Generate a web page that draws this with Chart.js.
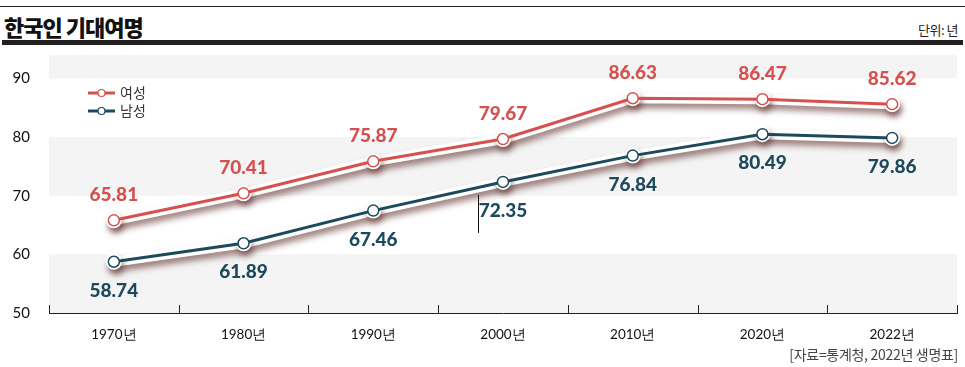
<!DOCTYPE html>
<html><head><meta charset="utf-8">
<script src="https://cdn.jsdelivr.net/npm/chart.js@4/dist/chart.umd.min.js"></script>
<style>
html,body{margin:0;padding:0;background:#fff;}
#wrap{position:relative;width:965px;height:367px;overflow:hidden;font-family:"Noto Sans CJK KR",sans-serif;}
#topline{position:absolute;left:0;top:6px;width:965px;height:1px;background:#222;}
#title{position:absolute;left:4px;top:11px;font-size:22px;font-weight:900;color:#111;letter-spacing:-1px;line-height:30px;}
#unit{position:absolute;right:7px;top:20px;font-size:13px;color:#222;line-height:20px;letter-spacing:-0.5px;}
#bar{position:absolute;left:2px;top:40px;width:961px;height:5px;background:#231f20;}
#src{position:absolute;right:7px;top:344px;font-size:14px;color:#444;line-height:20px;letter-spacing:-0.3px;}
canvas{position:absolute;left:0;top:0;}
</style></head>
<body><div id="wrap">
<div id="topline"></div>
<div id="title">한국인 기대여명</div>
<div id="unit">단위: 년</div>
<div id="bar"></div>
<canvas id="c" width="965" height="367"></canvas>
<div id="src">[자료=통계청, 2022년 생명표]</div>
</div>
<script>
const years = ['1970년','1980년','1990년','2000년','2010년','2020년','2022년'];
const female = [65.81, 70.41, 75.87, 79.67, 86.63, 86.47, 85.62];
const male = [58.74, 61.89, 67.46, 72.35, 76.84, 80.49, 79.86];
const seriesNames = ['여성','남성'];
const yTicks = [50, 60, 70, 80, 90];
const bands = [[50,60],[70,80],[90,94]];

const RED = '#d5504f';
const TEAL = '#1c4a5c';

const shadowPlugin = {
  id: 'shadowPlugin',
  beforeDatasetDraw(chart, args) {
    const ds = chart.data.datasets[args.index];
    if (ds._halo) {
      const ctx = chart.ctx;
      ctx.save();
      ctx.shadowColor = 'rgba(80,30,25,0.55)';
      ctx.shadowBlur = 6;
      ctx.shadowOffsetX = 2;
      ctx.shadowOffsetY = 5;
    }
  },
  afterDatasetDraw(chart, args) {
    const ds = chart.data.datasets[args.index];
    if (ds._halo) chart.ctx.restore();
  }
};

const decoPlugin = {
  id: 'deco',
  beforeDatasetsDraw(chart) {
    const {ctx, chartArea, scales} = chart;
    const y = scales.y;
    ctx.save();
    ctx.fillStyle = '#f4f4f4';
    bands.forEach(([a,b]) => {
      const t = y.getPixelForValue(b), btm = y.getPixelForValue(a);
      ctx.fillRect(chartArea.left, t, chartArea.right - chartArea.left, btm - t);
    });
    ctx.restore();
  },
  afterDraw(chart) {
    const {ctx, chartArea} = chart;
    ctx.save();
    ctx.strokeStyle = '#222';
    ctx.lineWidth = 1;
    const n = years.length;
    const w = (chartArea.right - chartArea.left) / n;
    for (let i = 0; i <= n; i++) {
      const px = Math.round(chartArea.left + i * w) + 0.5;
      ctx.beginPath();
      ctx.moveTo(px, chartArea.bottom - 8);
      ctx.lineTo(px, chartArea.bottom);
      ctx.stroke();
    }
    ctx.font = '900 19px Lato';
    ctx.textAlign = 'center';
    ctx.textBaseline = 'middle';
    const fm = chart.getDatasetMeta(0), mm = chart.getDatasetMeta(1);
    fm.data.forEach((p, i) => {
      ctx.fillStyle = RED;
      ctx.fillText(female[i].toFixed(2), p.x, p.y - 25);
    });
    mm.data.forEach((p, i) => {
      ctx.fillStyle = TEAL;
      ctx.fillText(male[i].toFixed(2), p.x, p.y + 29);
    });
    const p3 = mm.data[3];
    ctx.strokeStyle = '#111';
    ctx.beginPath();
    ctx.moveTo(Math.round(p3.x - 25) + 0.5, p3.y + 13);
    ctx.lineTo(Math.round(p3.x - 25) + 0.5, p3.y + 51);
    ctx.stroke();
    const items = [[seriesNames[0], RED, 93], [seriesNames[1], TEAL, 111]];
    items.forEach(([txt, col, ly]) => {
      ctx.strokeStyle = col;
      ctx.lineWidth = 3;
      ctx.beginPath();
      ctx.moveTo(88, ly); ctx.lineTo(115, ly); ctx.stroke();
      ctx.beginPath();
      ctx.arc(101.5, ly, 3.5, 0, Math.PI * 2);
      ctx.fillStyle = '#fff'; ctx.fill();
      ctx.lineWidth = 1.2; ctx.stroke();
      ctx.fillStyle = '#333';
      ctx.font = '14px "Noto Sans CJK KR"';
      ctx.textAlign = 'left';
      ctx.fillText(txt, 120, ly);
    });
    ctx.restore();
  }
};

const halo = (data) => ({
  data, _halo: true, order: 2,
  borderColor: '#fff', borderWidth: 10, tension: 0,
  pointRadius: 8, pointBackgroundColor: '#fff', pointBorderWidth: 0,
  pointHoverRadius: 8, borderCapStyle: 'round', borderJoinStyle: 'round'
});

new Chart(document.getElementById('c'), {
  type: 'line',
  data: {
    labels: years,
    datasets: [
      { label: seriesNames[0], data: female, order: 1, borderColor: RED, borderWidth: 3, tension: 0,
        pointRadius: 5.5, pointBackgroundColor: '#fff', pointBorderColor: RED, pointBorderWidth: 1.5 },
      { label: seriesNames[1], data: male, order: 1, borderColor: TEAL, borderWidth: 3, tension: 0,
        pointRadius: 5.5, pointBackgroundColor: '#fff', pointBorderColor: TEAL, pointBorderWidth: 1.5 },
      halo(female),
      halo(male)
    ]
  },
  options: {
    responsive: false, animation: false,
    layout: { padding: { top: 55, right: 7, left: 0, bottom: 0 } },
    plugins: { legend: { display: false }, tooltip: { enabled: false } },
    scales: {
      x: {
        offset: true,
        grid: { display: false },
        border: { display: true, color: '#222', width: 1 },
        ticks: { padding: 6, color: '#111', font: { family: 'Lato', size: 13.5 }, maxRotation: 0 },
        afterFit(s) { s.height = 54; }
      },
      y: {
        min: 50, max: 94,
        grid: { display: false },
        border: { display: false },
        ticks: { stepSize: 10, padding: 11, color: '#111', font: { family: 'Lato', size: 15 } },
        afterBuildTicks(s) { s.ticks = yTicks.map(v => ({ value: v })); },
        afterFit(s) { s.width = 49; }
      }
    }
  },
  plugins: [shadowPlugin, decoPlugin]
});
</script>
</body></html>
